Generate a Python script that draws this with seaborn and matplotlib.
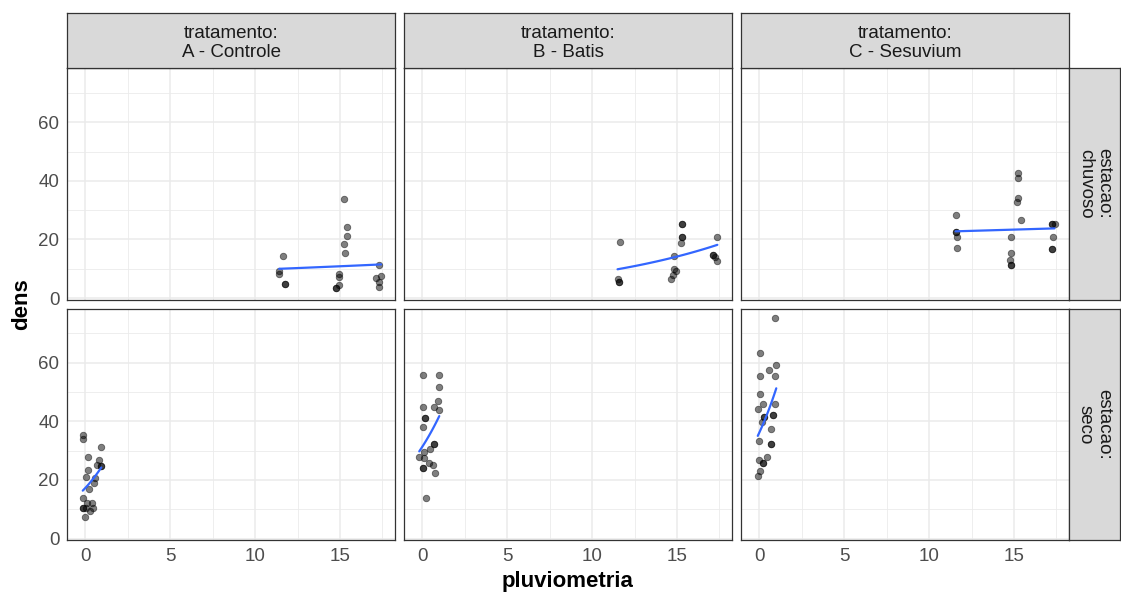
import numpy as np
import pandas as pd
import matplotlib
matplotlib.use("Agg")
import matplotlib.pyplot as plt
import seaborn as sns

# ---------------- data ----------------
tratamentos = ["A - Controle", "B - Batis", "C - Sesuvium"]
estacoes = ["chuvoso", "seco"]

# chuvoso
a_chuv_x = [11.66, 11.42, 11.42, 11.76, 11.76, 15.24, 15.39, 15.39, 15.24, 15.31,
            14.92, 14.92, 14.92, 14.74, 14.74, 17.32, 17.42, 17.12, 17.32, 17.32]
a_chuv_y = [14.2, 9.2, 8.1, 4.9, 4.9, 33.7, 24.1, 21.2, 18.6, 15.5,
            8.3, 7.2, 4.3, 3.5, 3.5, 11.2, 7.4, 6.8, 5.5, 3.8]

b_chuv_x = [11.66, 11.50, 11.60, 11.60, 15.31, 15.31, 15.31, 15.31, 15.21, 14.82,
            14.96, 14.82, 14.76, 14.66, 17.38, 17.10, 17.10, 17.24, 17.38]
b_chuv_y = [19.0, 6.4, 5.5, 5.5, 25.3, 25.3, 20.7, 20.7, 18.9, 14.3,
            9.1, 9.8, 7.7, 6.4, 20.7, 14.8, 14.8, 14.0, 12.5]

c_chuv_x = [11.56, 11.56, 11.56, 11.66, 11.66, 15.21, 15.21, 15.24, 15.15, 15.39,
            14.84, 14.84, 14.74, 14.80, 14.80, 17.26, 17.26, 17.39, 17.30, 17.26, 17.26]
c_chuv_y = [28.5, 22.5, 22.5, 20.8, 17.2, 42.8, 41.0, 34.1, 32.8, 26.6,
            20.7, 15.5, 12.9, 11.3, 11.3, 25.1, 25.1, 25.1, 20.7, 16.7, 16.7]

# seco
a_seco_x = [-0.12, -0.12, 0.94, 0.14, 0.81, 0.67, 0.94, 0.94, 0.14, 0.04, 0.57, 0.50,
            0.24, -0.12, 0.08, 0.40, -0.15, -0.15, 0.04, 0.28, 0.44, -0.02]
a_seco_y = [35.3, 34.0, 31.2, 27.8, 26.8, 25.1, 24.7, 24.7, 23.4, 20.9, 20.5, 19.0,
            16.8, 13.8, 12.0, 12.2, 10.3, 10.3, 10.3, 9.5, 10.3, 7.4]

b_seco_x = [0.04, 1.00, 1.00, 0.04, 0.94, 0.67, 0.97, 0.14, 0.14, 0.04, 0.69, 0.69,
            0.45, 0.12, -0.18, 0.12, 0.40, 0.63, 0.06, 0.06, 0.77, 0.22]
b_seco_y = [55.8, 55.8, 51.8, 45.0, 46.8, 45.0, 43.8, 41.0, 41.0, 38.1, 32.3, 32.3,
            30.6, 29.5, 27.8, 27.5, 25.9, 25.2, 24.2, 24.2, 22.5, 13.8]

c_seco_x = [0.93, 0.04, 1.00, 0.59, 0.04, 0.93, 0.04, 0.22, 0.93, -0.06, 0.28, 0.28,
            0.79, 0.79, 0.14, 0.69, -0.02, 0.69, 0.69, 0.47, -0.02, 0.20, 0.20, 0.06, -0.09]
c_seco_y = [75.3, 63.2, 59.3, 57.5, 55.4, 55.4, 49.4, 45.9, 45.9, 44.2, 41.5, 41.5,
            42.2, 42.2, 39.9, 37.4, 33.4, 32.3, 32.3, 27.8, 26.9, 25.9, 25.9, 23.0, 21.3]

panel_data = {
    ("chuvoso", "A - Controle"): (a_chuv_x, a_chuv_y),
    ("chuvoso", "B - Batis"): (b_chuv_x, b_chuv_y),
    ("chuvoso", "C - Sesuvium"): (c_chuv_x, c_chuv_y),
    ("seco", "A - Controle"): (a_seco_x, a_seco_y),
    ("seco", "B - Batis"): (b_seco_x, b_seco_y),
    ("seco", "C - Sesuvium"): (c_seco_x, c_seco_y),
}

x_ticks = [0, 5, 10, 15]
y_ticks = [0, 20, 40, 60]


def poisson_smooth(x, y, n=80):
    """glm(y ~ x, family = poisson) fitted by IRLS, like geom_smooth(method='glm')."""
    x = np.asarray(x, float)
    y = np.asarray(y, float)
    X = np.column_stack([np.ones_like(x), x])
    beta = np.array([np.log(y.mean()), 0.0])
    for _ in range(50):
        eta = X @ beta
        mu = np.exp(eta)
        z = eta + (y - mu) / mu
        W = mu
        beta = np.linalg.solve(X.T @ (W[:, None] * X), X.T @ (W * z))
    xs = np.linspace(x.min(), x.max(), n)
    return xs, np.exp(beta[0] + beta[1] * xs)


# ---------------- style ----------------
sns.set_style("white")
plt.rcParams["font.family"] = ["Liberation Sans", "DejaVu Sans"]

W, H = 1121, 596
fig = plt.figure(figsize=(W / 100, H / 100), dpi=100)


def rect(l, t, r, b):
    return [l / W, 1 - b / H, (r - l) / W, (b - t) / H]


cols_px = [(67.3, 395.3), (404.3, 732.3), (741.3, 1069.3)]
rows_px = [(68.0, 299.5), (308.5, 540.0)]
strip_top = (13.3, 68.0)
strip_right = (1069.3, 1120.0)

border_col = "#333333"
grid_col = "#EBEBEB"
strip_fill = "#D9D9D9"
tick_col = "#4D4D4D"
xlim = (-1.06, 18.26)
ylim = (-0.5, 78.5)

for ri, est in enumerate(estacoes):
    for ci, trat in enumerate(tratamentos):
        l, r = cols_px[ci]
        t, b = rows_px[ri]
        ax = fig.add_axes(rect(l, t, r, b))
        x, y = panel_data[(est, trat)]
        df = pd.DataFrame({"pluviometria": x, "dens": y})
        ax.set_xlim(*xlim)
        ax.set_ylim(*ylim)
        # grid
        for v in [2.5, 7.5, 12.5, 17.5]:
            ax.axvline(v, color=grid_col, lw=0.6, zorder=0)
        for v in [10, 30, 50, 70]:
            ax.axhline(v, color=grid_col, lw=0.6, zorder=0)
        for v in x_ticks:
            ax.axvline(v, color=grid_col, lw=1.1, zorder=0)
        for v in y_ticks:
            ax.axhline(v, color=grid_col, lw=1.1, zorder=0)
        sns.scatterplot(data=df, x="pluviometria", y="dens", ax=ax, color="black",
                        alpha=0.5, s=22, edgecolor="black", linewidth=0.6, zorder=3)
        xs, ys = poisson_smooth(x, y)
        sns.lineplot(x=xs, y=ys, ax=ax, color="#3366FF", lw=1.6, zorder=4)
        ax.set_xlabel("")
        ax.set_ylabel("")
        ax.set_xticks(x_ticks)
        ax.set_yticks(y_ticks)
        for sp in ax.spines.values():
            sp.set_color(border_col)
            sp.set_linewidth(0.9)
        ax.tick_params(axis="both", length=3.2, width=0.8, color=border_col,
                       labelsize=13.5, labelcolor=tick_col, pad=2.5)
        if ri == 0:
            ax.tick_params(axis="x", length=0, labelbottom=False)
        if ci > 0:
            ax.tick_params(axis="y", length=0, labelleft=False)

        # top strips
        if ri == 0:
            sax = fig.add_axes(rect(l, strip_top[0], r, strip_top[1]))
            sax.set_facecolor(strip_fill)
            sax.set_xticks([]); sax.set_yticks([])
            for sp in sax.spines.values():
                sp.set_color(border_col); sp.set_linewidth(0.9)
            sax.text(0.5, 0.46, "tratamento:\n" + trat, ha="center", va="center",
                     fontsize=13.5, color="#1A1A1A", linespacing=1.12,
                     transform=sax.transAxes)
    # right strips
    t, b = rows_px[ri]
    rax = fig.add_axes(rect(strip_right[0], t, strip_right[1], b))
    rax.set_facecolor(strip_fill)
    rax.set_xticks([]); rax.set_yticks([])
    for sp in rax.spines.values():
        sp.set_color(border_col); sp.set_linewidth(0.9)
    rax.text(0.5, 0.5, "estacao:\n" + est, ha="center", va="center", rotation=-90,
             fontsize=13.5, color="#1A1A1A", linespacing=1.12, transform=rax.transAxes)

fig.text(568 / W, 1 - 581 / H, "pluviometria", ha="center", va="center",
         fontsize=16, fontweight="bold", color="black")
fig.text(22 / W, 1 - 304 / H, "dens", ha="center", va="center", rotation=90,
         fontsize=16, fontweight="bold", color="black")

fig.savefig("out.png", dpi=100)
